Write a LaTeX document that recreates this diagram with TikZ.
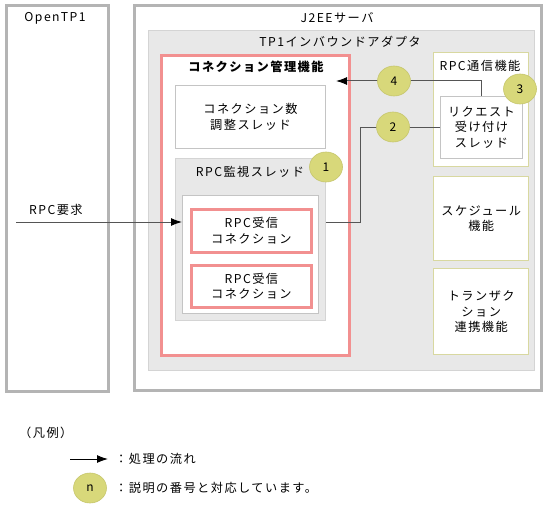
\documentclass[tikz,border=0pt]{standalone}
\usepackage{fontspec}
\newfontfamily\jpfont[LetterSpace=12]{Noto Sans CJK JP}
\usetikzlibrary{arrows.meta, shapes.geometric, positioning}

\definecolor{framegray}{HTML}{B4B4B4}
\definecolor{adaptfill}{HTML}{E8E8E8}
\definecolor{adaptline}{HTML}{D4D4D4}
\definecolor{thingray}{HTML}{C4C4C4}
\definecolor{pinkline}{HTML}{F29090}
\definecolor{oliveline}{HTML}{D8D8A0}
\definecolor{numfill}{HTML}{D8D87A}
\definecolor{numline}{HTML}{C6C66C}
\definecolor{flowgray}{HTML}{555555}

\tikzset{
  lbl/.style={font=\jpfont\fontsize{12.2}{15.5}\selectfont, inner sep=0pt, align=center},
  anybox/.style={lbl, anchor=north west, inner sep=0pt},
  outerbox/.style={anybox, draw=framegray, line width=2.6pt},
  adaptbox/.style={anybox, draw=adaptline, fill=adaptfill, line width=0.8pt},
  pinkbox/.style={anybox, draw=pinkline, fill=white, line width=2.8pt},
  thinbox/.style={anybox, draw=thingray, fill=white, line width=1pt},
  watchbox/.style={anybox, draw=adaptline, fill=adaptfill, line width=1pt},
  olivebox/.style={anybox, draw=oliveline, fill=white, line width=1.4pt},
  numcircle/.style={ellipse, draw=numline, fill=numfill, line width=0.6pt,
    minimum width=33pt, minimum height=30pt, inner sep=0pt,
    font=\jpfont\fontsize{12}{14}\selectfont},
  flowline/.style={draw=flowgray, line width=1pt},
  flowarrow/.style={flowline, -{Latex[length=11pt, width=8pt, black]}}
}

\begin{document}
\begin{tikzpicture}[x=1pt, y=-1pt]
  \useasboundingbox (0,0) rectangle (548,505);

  % 1. OpenTP1 / J2EE
  \node[outerbox, minimum width=102, minimum height=386] (otp) at (5,4) {};
  \node[lbl] (otplbl) at (55,18) {OpenTP1};
  \node[outerbox, minimum width=407, minimum height=385] (j2ee) at (133,4) {};
  \node[lbl] (j2eelbl) at (337,18) {J2EEサーバ};

  % 2. アダプタ
  \node[adaptbox, minimum width=386, minimum height=340] (adapt) at (148,30) {};
  \node[lbl] (adaptlbl) at (340,42) {TP1インバウンドアダプタ};

  % 3. コネクション管理機能
  \node[pinkbox, minimum width=188, minimum height=300] (conmgr) at (160,54) {};
  \node[lbl, font=\jpfont\bfseries\fontsize{12.2}{15.5}\selectfont] (conmgrlbl) at (256,67) {コネクション管理機能};
  \node[thinbox, minimum width=150, minimum height=63] (adjust) at (175,85) {コネクション数\\調整スレッド};
  \node[watchbox, minimum width=150, minimum height=162] (watch) at (175,158) {};
  \node[lbl] (watchlbl) at (250,172) {RPC監視スレッド};
  \node[thinbox, minimum width=136, minimum height=118] (recvarea) at (182,195) {};
  \node[pinkbox, minimum width=120, minimum height=43] (recv1) at (190,208) {RPC受信\\コネクション};
  \node[pinkbox, minimum width=120, minimum height=42] (recv2) at (190,264) {RPC受信\\コネクション};

  % 4. 右側の機能
  \node[olivebox, minimum width=95, minimum height=114] (comm) at (433,52) {};
  \node[lbl] (commlbl) at (480,66) {RPC通信機能};
  \node[thinbox, minimum width=82, minimum height=62] (reqthr) at (440,96) {リクエスト\\受け付け\\スレッド};
  \node[olivebox, minimum width=95, minimum height=84] (sched) at (433,176) {スケジュール\\機能};
  \node[olivebox, minimum width=95, minimum height=86] (trans) at (433,268) {トランザク\\ション\\連携機能};

  % 5. 処理の流れ
  \coordinate (src) at (16,222);
  \coordinate (bend) at (360,0);
  \coordinate (mgrin) at (336,81);
  \draw[flowarrow] (src) -- (src -| recvarea.west);
  \node[lbl, anchor=south west] (reqlbl) at (29,216) {RPC要求};
  \draw[flowline] (reqthr.west) -- (reqthr.west -| bend) |- (watch.east |- src);
  \draw[flowarrow] (reqthr.north) |- (mgrin);

  % 6. 番号
  \node[numcircle] (n1) at (326,167) {1};
  \node[numcircle] (n2) at (393,127) {2};
  \node[numcircle] (n3) at (520,89) {3};
  \node[numcircle] (n4) at (394,81) {4};

  % 7. 凡例
  \node[lbl, anchor=west] (legend) at (19,433) {（凡例）};
  \coordinate (la) at (70,459);
  \coordinate (lb) at (108,459);
  \draw[flowarrow, draw=black] (la) -- (lb);
  \node[lbl, anchor=west] (legflow) at (115,459) {：処理の流れ};
  \node[numcircle] (nleg) at (90,488) {n};
  \node[lbl, anchor=west] (legnum) at (115,488) {：説明の番号と対応しています。};
\end{tikzpicture}
\end{document}
